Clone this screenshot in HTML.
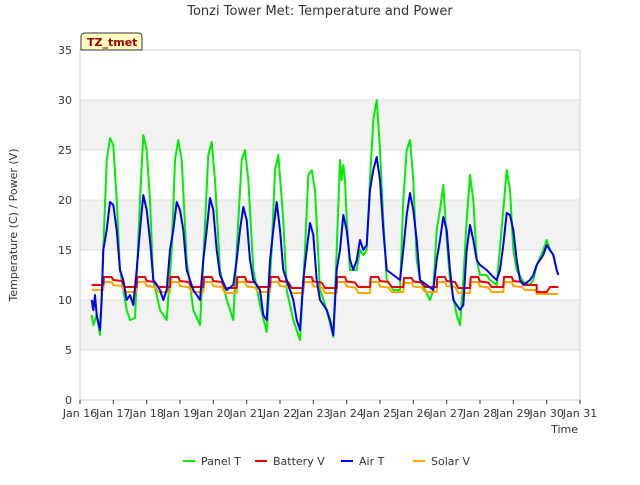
<!DOCTYPE html>
<html><head><meta charset="utf-8">
<style>
body{margin:0;background:#fff;font-family:"Liberation Sans","DejaVu Sans",sans-serif;}
svg text{font-family:"DejaVu Sans","Liberation Sans",sans-serif;}
</style></head>
<body>
<svg id="c" width="640" height="480" xmlns="http://www.w3.org/2000/svg">
<text x="320" y="15" text-anchor="middle" font-size="13" fill="#333">Tonzi Tower Met: Temperature and Power</text>
<g id="plot"></g>
<text x="17" y="225" text-anchor="middle" font-size="11" fill="#333" transform="rotate(-90 17 225)">Temperature (C) / Power (V)</text>
<text x="578" y="433" text-anchor="end" font-size="11" fill="#333">Time</text>
<g>
<path d="M81,50 L81,37 Q81,33 85,33 L138,33 Q142,33 142,37 L142,50 Z" fill="#ffffc0" stroke="#333"/>
<text x="87" y="46" font-size="11" font-weight="bold" fill="#a00000">TZ_tmet</text>
</g>
<g id="legend"></g>
</svg>
<script>
const dayTicks=["Jan 16","Jan 17","Jan 18","Jan 19","Jan 20","Jan 21","Jan 22","Jan 23","Jan 24","Jan 25","Jan 26","Jan 27","Jan 28","Jan 29","Jan 30","Jan 31"];
const yTicks=[0,5,10,15,20,25,30,35];
const panelT=[[0.35,8.5],[0.4,7.5],[0.5,8.5],[0.6,6.5],[0.7,15],[0.8,24],[0.9,26.2],[1.0,25.5],[1.1,20],[1.2,13],[1.4,9],[1.5,8],[1.65,8.2],[1.8,20],[1.9,26.5],[2.0,25],[2.1,20],[2.2,12],[2.4,9],[2.6,8],[2.75,15],[2.85,24],[2.95,26],[3.05,24],[3.2,14],[3.4,9],[3.6,7.5],[3.7,14],[3.85,24.5],[3.95,25.8],[4.05,22],[4.2,13],[4.4,10],[4.6,8],[4.7,15],[4.85,24],[4.95,25],[5.05,22],[5.2,13],[5.4,9.5],[5.6,6.8],[5.75,15],[5.85,23],[5.95,24.5],[6.1,18],[6.2,11],[6.4,8],[6.6,6],[6.75,15],[6.85,22.5],[6.95,23],[7.05,21],[7.2,11],[7.4,9],[7.6,6.3],[7.7,15],[7.8,24],[7.85,22],[7.9,23.5],[7.95,22],[8.0,18],[8.1,13],[8.3,13],[8.4,15],[8.5,14.5],[8.6,15],[8.7,22],[8.8,28],[8.9,30],[9.0,25],[9.1,18],[9.2,12],[9.4,11],[9.6,11],[9.7,20],[9.8,25],[9.9,26],[10.0,22],[10.1,14],[10.2,12],[10.35,11],[10.5,10],[10.6,11],[10.7,17],[10.8,19],[10.9,21.5],[11.0,16],[11.1,12],[11.3,8.5],[11.4,7.5],[11.5,12],[11.6,18],[11.7,22.5],[11.8,20],[11.9,14],[12.0,12.5],[12.2,12.5],[12.3,12],[12.5,11.5],[12.7,19],[12.8,23],[12.9,21],[13.0,15],[13.1,13],[13.3,11.8],[13.5,11.5],[13.6,12],[13.7,13.5],[13.9,15],[14.0,16],[14.1,15],[14.2,14.5],[14.3,13],[14.35,12.5]];
const airT=[[0.35,10],[0.4,9],[0.45,10.5],[0.5,8.5],[0.6,7],[0.65,10],[0.7,15],[0.8,17],[0.9,19.8],[1.0,19.5],[1.1,17],[1.2,13],[1.3,12],[1.4,10],[1.5,10.5],[1.6,9.5],[1.7,13],[1.8,17],[1.9,20.5],[2.0,19],[2.1,16],[2.2,12],[2.4,11],[2.5,10],[2.6,11],[2.7,15],[2.8,17],[2.9,19.8],[3.0,19],[3.1,17],[3.2,13],[3.4,11],[3.5,10.5],[3.6,10],[3.7,14],[3.8,17],[3.9,20.2],[4.0,19],[4.1,15],[4.2,12.5],[4.4,11],[4.6,11.5],[4.7,14],[4.8,17],[4.9,19.3],[5.0,18],[5.1,14],[5.2,12],[5.4,11],[5.5,8.5],[5.6,8],[5.7,14],[5.8,17],[5.9,19.8],[6.0,17],[6.1,13],[6.2,12],[6.4,10],[6.5,8],[6.6,7],[6.7,12],[6.8,15],[6.9,17.7],[7.0,16.5],[7.1,12],[7.2,10],[7.4,9],[7.5,8],[7.6,6.5],[7.7,13],[7.8,15],[7.9,18.5],[8.0,17],[8.1,14],[8.2,13],[8.3,14],[8.4,16],[8.5,15],[8.6,15.5],[8.7,21],[8.8,23],[8.9,24.3],[9.0,22],[9.1,17],[9.2,13],[9.4,12.5],[9.6,12],[9.7,15],[9.8,18.5],[9.9,20.7],[10.0,19],[10.1,16],[10.2,12],[10.4,11.5],[10.6,11],[10.7,14],[10.8,16],[10.9,18.3],[11.0,17],[11.1,13],[11.2,10],[11.3,9.5],[11.4,9],[11.5,9.5],[11.6,15],[11.7,17.5],[11.8,16],[11.9,14],[12.0,13.5],[12.2,13],[12.4,12.3],[12.5,12],[12.6,13],[12.7,15.5],[12.8,18.7],[12.9,18.5],[13.0,17],[13.1,14],[13.2,12],[13.3,11.5],[13.5,12],[13.6,12.5],[13.7,13.5],[13.9,14.5],[14.0,15.5],[14.1,15],[14.2,14.5],[14.3,13],[14.35,12.5]];
const batHi=[12.3,12.3,12.3,12.3,12.3,12.3,12.3,12.3,12.3,12.2,12.3,12.3,12.3,12.2];
const batLo=[11.5,11.3,11.3,11.3,11.2,11.3,11.2,11.2,11.3,11.3,11.3,11.2,11.3,11.5];
const solHi=[11.8,11.8,11.8,11.8,11.8,11.8,11.8,11.8,11.8,11.7,11.8,11.8,11.8,11.8];
const solLo=[11.0,10.8,10.8,10.8,10.7,10.8,10.7,10.7,10.7,10.8,10.8,10.7,10.8,11.0];
const batTail=[[13.7,10.8],[14.0,10.8],[14.1,11.3],[14.35,11.3]];
const solTail=[[13.7,10.6],[14.35,10.6]];

const X0=80,X1=580,Y0=400,Y1=50;
const xs=d=>X0+d*(X1-X0)/15;
const ys=v=>Y0-v*(Y0-Y1)/35;
const NS="http://www.w3.org/2000/svg";
const plot=document.getElementById('plot');
function mk(tag,attrs,parent){const e=document.createElementNS(NS,tag);for(const k in attrs)e.setAttribute(k,attrs[k]);(parent||plot).appendChild(e);return e;}
mk('rect',{x:X0,y:Y1,width:X1-X0,height:Y0-Y1,fill:'#fff'});
for(let i=1;i<yTicks.length-1;i+=2){
 const b=mk('rect',{x:X0,y:ys(yTicks[i+1]),width:X1-X0,height:ys(yTicks[i])-ys(yTicks[i+1]),fill:'#f2f2f2'});
 
 
}
yTicks.forEach(v=>{
 const l=mk('line',{x1:X0,x2:X1,y1:ys(v),y2:ys(v),stroke:'#ddd'});
 
 
 const t=mk('text',{x:X0-8,y:ys(v)+4,'text-anchor':'end','font-size':11,fill:'#333'});
 t.textContent=v;
 
 
});
mk('rect',{x:X0,y:Y1,width:X1-X0,height:Y0-Y1,fill:'none',stroke:'#ccc'});
dayTicks.forEach((s,i)=>{
 mk('line',{x1:xs(i),x2:xs(i),y1:Y0,y2:Y0+4,stroke:'#333'});
 const t=mk('text',{x:xs(i),y:Y0+17,'text-anchor':'middle','font-size':11,fill:'#333'});
 t.textContent=s;
 
 
});
function saw(hi,lo,tail){const p=[];hi.forEach((h,k)=>{p.push([k+0.35,lo[k]]);p.push([k+0.7,lo[k]]);p.push([k+0.72,h]);p.push([k+0.95,h]);p.push([k+1.0,(h+lo[k])/2+0.1]);p.push([k+1.25,(h+lo[k])/2]);});return p.filter(q=>q[0]<=13.7).concat(tail);}
function line(pts,color,name){
 const e=mk('path',{d:'M'+pts.map(p=>xs(p[0]).toFixed(1)+','+ys(p[1]).toFixed(1)).join('L'),fill:'none',stroke:color,'stroke-width':2,'stroke-linejoin':'round'});
 
 
}
line(panelT,'#00ee00','panel-t-line');
line(saw(solHi,solLo,solTail),'#ffa500','solar-v-line');
line(saw(batHi,batLo,batTail),'#ee0000','battery-v-line');
line(airT,'#0000ee','air-t-line');
const leg=document.getElementById('legend');
[["Panel T","#00ee00",183],["Battery V","#ee0000",255],["Air T","#0000ee",341],["Solar V","#ffa500",413]].forEach(a=>{
 const g=mk('g',{},leg);
 
 
 mk('line',{x1:a[2],x2:a[2]+12,y1:461,y2:461,stroke:a[1],'stroke-width':2},g);
 const t=mk('text',{x:a[2]+18,y:465,'font-size':11,fill:'#333'},g);
 t.textContent=a[0];
});
</script>
</body></html>
